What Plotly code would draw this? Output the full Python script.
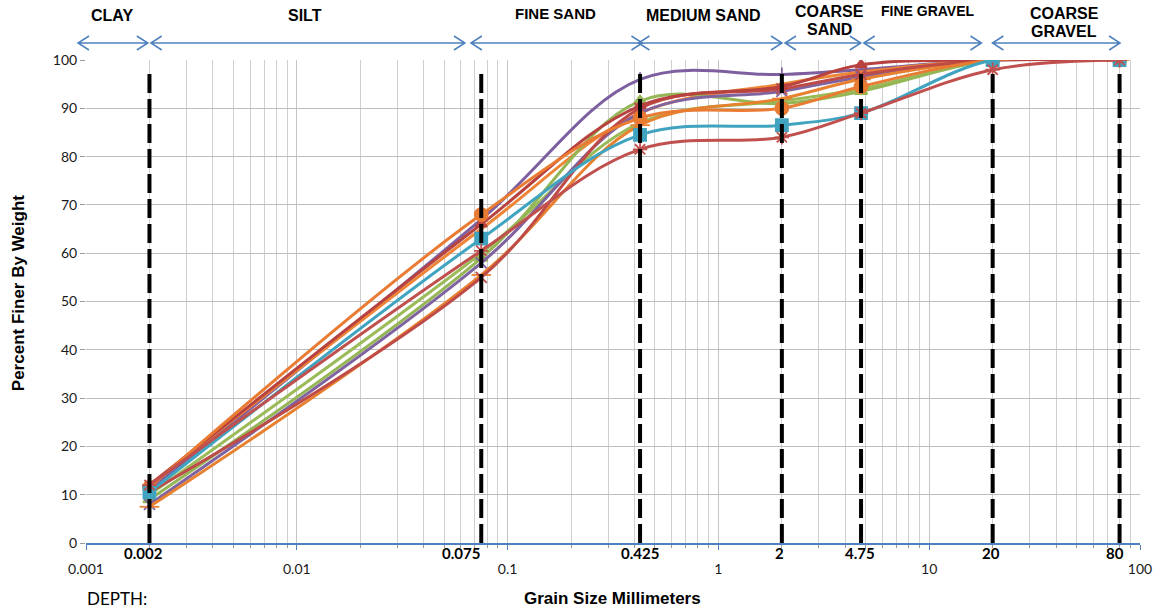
import numpy as np
import plotly.graph_objects as go

# Sieve sizes (mm) at which percent finer was measured
sieve_mm = [0.002, 0.075, 0.425, 2, 4.75, 20, 80]

# Percent finer by weight for each sample
purple_top = [11, 67, 96, 97, 98, 100, 100]
orange_circ = [11.5, 68, 88, 90, 94.5, 100, 100]
red_tri = [12, 66, 90.5, 94.5, 99, 100, 100]
green_tri = [9, 59, 91.5, 91, 93.5, 100, 100]
purple_x = [8, 58, 89, 93.5, 96.5, 100, 100]
orange_dash = [7.5, 55.5, 86.5, 92, 96, 100, 100]
red_x = [10.5, 55, 90, 94, 97, 100, 100]
green2 = [10, 60, 87, 91.5, 94, 100, 100]
orange2 = [12, 65, 89, 95, 97.5, 100, 100]
teal_sq = [10.5, 63, 84.5, 86.5, 89, 100, 100]
red_star = [12, 60.5, 81.5, 84, 89, 98, 100]

# Soil class boundaries (mm) and their labels
boundaries = [0.002, 0.075, 0.425, 2, 4.75, 20, 80]
boundary_labels = ["0.002", "0.075", "0.425", "2", "4.75", "20", "80"]

# Soil classes shown over the plot
class_names = ["CLAY", "SILT", "FINE SAND", "MEDIUM SAND", "COARSE<br>SAND",
               "FINE GRAVEL", "COARSE<br>GRAVEL"]

# Decade tick labels
x_ticks = [0.001, 0.01, 0.1, 1, 10, 100]
x_tick_text = ["0.001", "0.01", "0.1", "1", "10", "100"]

# --- layout geometry (pixels of the 1164x613 page) ---
W, H = 1164, 613
L, R, T, B = 86, 1143, 60, 543


def fx(px):
    return (px - L) / (R - L)


def fy(py):
    return (B - py) / (B - T)


series = [
    (purple_top, "#7D5FA0", "line-ns-open", 10),
    (orange2, "#EE8435", "circle", 0),
    (green2, "#9BBB59", "diamond", 0),
    (green_tri, "#94B654", "triangle-up", 11),
    (purple_x, "#7F63A1", "x-thin-open", 11),
    (orange_dash, "#E8812F", "line-ew-open", 14),
    (red_x, "#BE4B48", "x-thin-open", 11),
    (red_tri, "#B8423F", "triangle-up", 10),
    (orange_circ, "#E97B33", "circle", 13),
    (teal_sq, "#40A4C0", "square", 12),
    (red_star, "#C0504D", "asterisk-open", 12),
]

fig = go.Figure()

for vals, col, sym, size in series:
    fig.add_trace(go.Scatter(
        x=sieve_mm, y=vals, mode="lines+markers" if size else "lines",
        line=dict(color=col, width=3, shape="spline", smoothing=1.0),
        marker=dict(symbol=sym, size=size, color=col,
                    line=dict(color=col, width=1.8)),
        showlegend=False, hoverinfo="skip",
    ))

# dashed class boundaries
for b in boundaries:
    fig.add_trace(go.Scatter(
        x=[b, b], y=[0, 98], mode="lines",
        line=dict(color="black", width=4, dash="19px,6px"),
        showlegend=False, hoverinfo="skip",
    ))

annotations = []

# bold boundary values under the axis
label_shift = {"0.002": -6, "0.075": -20, "0.425": 0, "2": -2, "4.75": -1,
               "20": -2, "80": -5}
for b, t in zip(boundaries, boundary_labels):
    annotations.append(dict(
        x=np.log10(b), xref="x", y=fy(553), yref="paper", text=f"<b>{t}</b>",
        showarrow=False, xshift=label_shift[t], xanchor="center", yanchor="middle",
        font=dict(family="Lato", size=15, color="black"),
    ))

# class names (one entry per text line) and double arrows above the plot
class_pos = [(112, [16], 16), (306, [16], 16), (557, [13], 15), (705, [16], 16),
             (832, [11, 29], 16), (930, [11], 14), (1067, [13, 32], 16)]
for name, (cx, rows, fs) in zip(class_names, class_pos):
    for part, cy in zip(name.split("<br>"), rows):
        annotations.append(dict(
            x=fx(cx), y=fy(cy), xref="paper", yref="paper", text=f"<b>{part}</b>",
            showarrow=False, xanchor="center", yanchor="middle",
            font=dict(family="Liberation Sans", size=fs, color="black"),
        ))

arrow_px = [(78, 148), (151, 466), (472, 644), (640, 784), (787, 863),
            (866, 984), (995, 1123)]
ay = fy(43)
dx = 11 / (R - L)
dy = 7 / (B - T)
shapes = []
for a, b in arrow_px:
    x1, x2 = fx(a), fx(b)
    path = (f"M{x1},{ay} L{x2},{ay} "
            f"M{x1 + dx},{ay + dy} L{x1},{ay} L{x1 + dx},{ay - dy} "
            f"M{x2 - dx},{ay + dy} L{x2},{ay} L{x2 - dx},{ay - dy}")
    shapes.append(dict(type="path", path=path, xref="paper", yref="paper",
                       line=dict(color="#4F81BD", width=1.5)))

# axis titles
annotations.append(dict(
    x=fx(18), y=fy(293), xref="paper", yref="paper", textangle=-90,
    xanchor="center", yanchor="middle",
    text="<b>Percent Finer By Weight</b>", showarrow=False,
    font=dict(family="Liberation Sans", size=17, color="black"),
))
annotations.append(dict(
    x=fx(614), y=fy(598), xref="paper", yref="paper",
    xanchor="center", yanchor="middle",
    text="<b>Grain Size Millimeters</b>", showarrow=False,
    font=dict(family="Liberation Sans", size=17, color="black"),
))
annotations.append(dict(
    x=fx(117), y=fy(598), xref="paper", yref="paper",
    xanchor="center", yanchor="middle",
    text="DEPTH:", showarrow=False,
    font=dict(family="Lato", size=17, color="black"),
))

minor_vals = [m * 10.0 ** e for e in range(-3, 2) for m in range(2, 10)]

fig.update_xaxes(
    type="log", range=[-3, 2],
    tickvals=x_ticks, ticktext=x_tick_text,
    showgrid=True, gridcolor="#C4C4C4", gridwidth=1,
    showline=True, linecolor="#4F81BD", linewidth=2,
    ticks="outside", tickcolor="#4F81BD", ticklen=5,
    ticklabelstandoff=7,
    minor=dict(tickvals=minor_vals, showgrid=True, gridcolor="#CFCFCF",
               ticks="outside", ticklen=3, tickcolor="#9A9A9A"),
    tickfont=dict(family="Lato", size=14, color="#1A1A1A"),
    zeroline=False,
)
fig.update_yaxes(
    range=[0, 100], dtick=10,
    showgrid=True, gridcolor="#BDBDBD", gridwidth=1,
    ticks="outside", ticklen=5, tickcolor="#9A9A9A",
    tickfont=dict(family="Lato", size=14, color="#1A1A1A"),
    zeroline=False, showline=False,
)

fig.update_layout(
    width=W, height=H,
    margin=dict(l=L, r=W - R, t=T, b=H - B),
    paper_bgcolor="white", plot_bgcolor="white",
    annotations=annotations, shapes=shapes,
    showlegend=False,
)

fig.write_html("out.html")
